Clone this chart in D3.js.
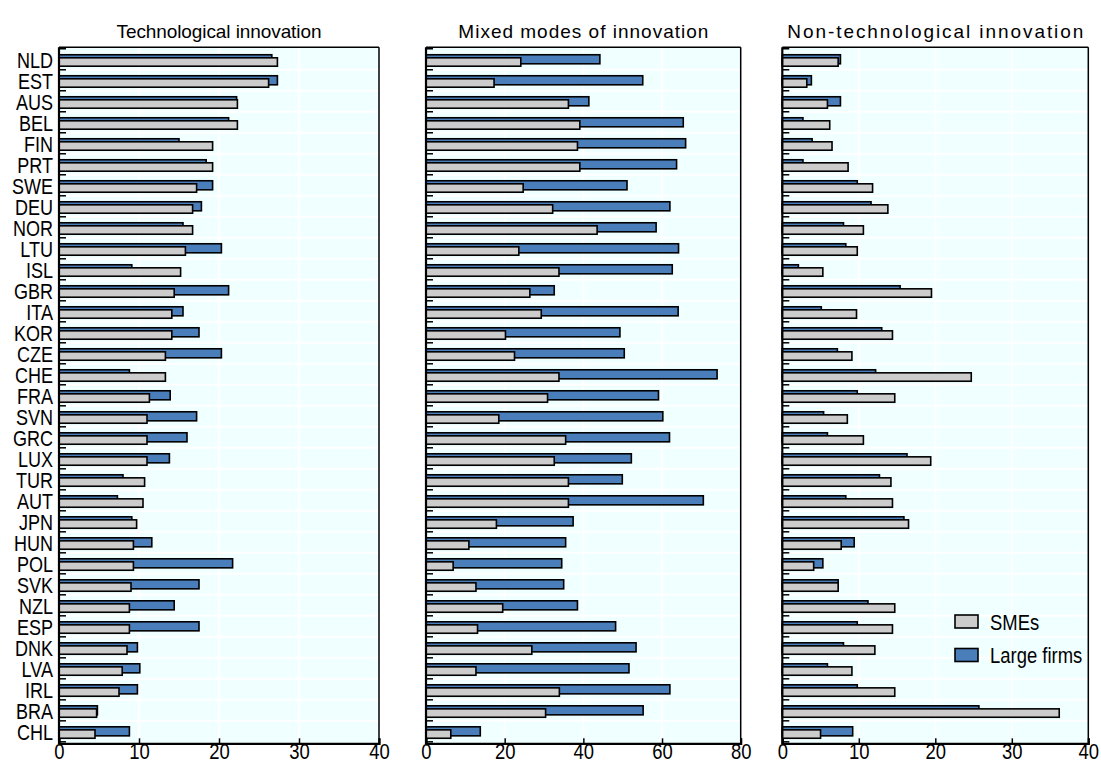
<!DOCTYPE html>
<html>
<head>
<meta charset="utf-8">
<script src="https://cdn.jsdelivr.net/npm/d3@7"></script>
<style>
  body { margin: 0; background: #fff; }
  svg text { font-family: "Liberation Sans Narrow", "Arial Narrow", "Liberation Sans", sans-serif; fill: #000; }
</style>
</head>
<body>
<svg id="chart" width="1101" height="765"></svg>
<script>
// countries, top to bottom
const countries = ["NLD","EST","AUS","BEL","FIN","PRT","SWE","DEU","NOR","LTU","ISL","GBR","ITA","KOR","CZE","CHE","FRA","SVN","GRC","LUX","TUR","AUT","JPN","HUN","POL","SVK","NZL","ESP","DNK","LVA","IRL","BRA","CHL"]

// Technological innovation (%)
const techSME   = [27.3,26.2,22.3,22.3,19.2,19.2,17.2,16.7,16.7,15.8,15.2,14.4,14.1,14.1,13.3,13.3,11.3,11.0,11.0,11.0,10.7,10.5,9.7,9.3,9.3,9.0,8.8,8.8,8.5,7.9,7.5,4.7,4.5]
const techLarge = [26.6,27.3,22.2,21.2,15.0,18.4,19.2,17.8,15.5,20.3,9.1,21.2,15.5,17.5,20.3,8.8,13.9,17.2,16.0,13.8,8.0,7.3,9.1,11.6,21.7,17.5,14.4,17.5,9.8,10.1,9.8,4.8,8.8]

// Mixed modes of innovation (%)
const mixedSME   = [24.1,17.3,36.2,39.1,38.5,39.1,24.7,32.2,43.5,23.6,33.8,26.4,29.3,20.2,22.5,33.8,30.9,18.5,35.5,32.6,36.2,36.2,17.9,10.9,6.9,12.7,19.5,13.1,26.9,12.7,33.9,30.4,6.3]
const mixedLarge = [44.2,55.1,41.4,65.4,66.0,63.7,51.1,62.0,58.5,64.2,62.6,32.6,64.1,49.3,50.4,74.0,59.1,60.2,61.9,52.2,49.9,70.5,37.4,35.5,34.5,35.0,38.5,48.2,53.4,51.6,62.0,55.2,13.8]

// Non-technological innovation (%)
const nonTechSME   = [7.3,3.2,5.9,6.2,6.5,8.6,11.8,13.8,10.6,9.8,5.3,19.5,9.7,14.4,9.1,24.7,14.7,8.5,10.6,19.4,14.2,14.4,16.5,7.7,4.1,7.3,14.7,14.4,12.1,9.1,14.7,36.2,5.0]
const nonTechLarge = [7.6,3.8,7.6,2.7,3.9,2.7,9.8,11.6,8.0,8.3,2.1,15.4,5.1,13.0,7.2,12.2,9.8,5.4,5.9,16.3,12.7,8.3,15.9,9.4,5.3,7.3,11.2,9.8,8.0,5.9,9.8,25.7,9.2]

const titles = ["Technological innovation", "Mixed modes of innovation", "Non-technological innovation"]
const seriesNames = ["SMEs", "Large firms"]
const maxVals = [40, 80, 40]
const tickSteps = [10, 20, 10]

const colSME = "#cccccc"
const colLarge = "#4a7ebb"
const bg = "#f0ffff"

// no narrow font installed, so squeeze the regular one sideways
const narrow = 0.82

let svg = d3.select("#chart")
let plotTop = 47.3, plotBottom = 743.3

function squeeze(sel, x) {
    sel.attr("transform", "scale(" + narrow + ",1)")
        .attr("x", x / narrow)
}

let yScale = d3.scaleBand()
    .domain(countries)
    .range([plotTop, plotBottom])
    .paddingInner(0)
    .paddingOuter(0.07)

let panels = [
    { left: 59, right: 379, sme: techSME, large: techLarge, titleW: 205 },
    { left: 426, right: 740.7, sme: mixedSME, large: mixedLarge, titleW: 250 },
    { left: 782.3, right: 1088.3, sme: nonTechSME, large: nonTechLarge, titleW: 296 }
]

panels.forEach(function (p, k) {
    let xScale = d3.scaleLinear()
        .domain([0, maxVals[k]])
        .range([p.left, p.right])
    let ticks = d3.range(0, maxVals[k] + 0.01, tickSteps[k])
    let g = svg.append("g")

    // background
    g.append("rect")
        .attr("x", p.left).attr("y", plotTop)
        .attr("width", p.right - p.left).attr("height", plotBottom - plotTop)
        .attr("fill", bg)

    // white gridlines
    g.selectAll(".vgrid")
        .data(ticks.slice(1, -1))
        .enter().append("line")
        .attr("x1", d => xScale(d)).attr("x2", d => xScale(d))
        .attr("y1", plotTop).attr("y2", plotBottom)
        .attr("stroke", "#fff").attr("stroke-width", 2)
    g.selectAll(".hgrid")
        .data(countries.slice(1))
        .enter().append("line")
        .attr("x1", p.left).attr("x2", p.right)
        .attr("y1", d => yScale(d)).attr("y2", d => yScale(d))
        .attr("stroke", "#fff").attr("stroke-width", 2)

    let bw = yScale.bandwidth()

    // large firms bar sits behind, slightly higher
    g.selectAll(".large")
        .data(countries)
        .enter().append("rect")
        .attr("x", xScale(0))
        .attr("y", d => yScale(d) + bw * 0.285)
        .attr("width", (d, i) => xScale(p.large[i]) - xScale(0))
        .attr("height", bw * 0.43)
        .attr("fill", colLarge)
        .attr("stroke", "#000").attr("stroke-width", 1.6)

    g.selectAll(".sme")
        .data(countries)
        .enter().append("rect")
        .attr("x", xScale(0))
        .attr("y", d => yScale(d) + bw * 0.43)
        .attr("width", (d, i) => xScale(p.sme[i]) - xScale(0))
        .attr("height", bw * 0.40)
        .attr("fill", colSME)
        .attr("stroke", "#000").attr("stroke-width", 1.6)

    // frame
    g.append("line")
        .attr("x1", p.left).attr("x2", p.right).attr("y1", plotTop).attr("y2", plotTop)
        .attr("stroke", "#000").attr("stroke-width", 1.5)
    g.append("line")
        .attr("x1", p.right).attr("x2", p.right).attr("y1", plotTop).attr("y2", plotBottom)
        .attr("stroke", "#000").attr("stroke-width", 1.5)

    // x axis (ticks inward)
    let xAxis = g.append("g")
        .attr("transform", "translate(0," + plotBottom + ")")
        .call(d3.axisBottom(xScale).tickValues(ticks).tickSize(-5).tickPadding(6).tickFormat(d3.format("d")))
    xAxis.select(".domain").attr("stroke-width", 2.2)
    xAxis.selectAll(".tick line").attr("stroke-width", 1.5)
    xAxis.selectAll("text")
        .style("font-size", "22.5px")
        .attr("dy", "0.62em")
        .attr("y", 2)
        .attr("transform", "scale(" + narrow + ",1)")

    // y axis: ticks at band boundaries
    let bounds = countries.map(d => yScale(d)).concat([yScale(countries[countries.length - 1]) + yScale.step()])
    g.selectAll(".ytick")
        .data(bounds)
        .enter().append("line")
        .attr("x1", p.left).attr("x2", p.left + 7)
        .attr("y1", d => d).attr("y2", d => d)
        .attr("stroke", "#000").attr("stroke-width", 1.5)
    g.append("line")
        .attr("x1", p.left).attr("x2", p.left).attr("y1", plotTop).attr("y2", plotBottom + 1)
        .attr("stroke", "#000").attr("stroke-width", 2.2)

    // title: narrow glyphs spread out to the reference width
    g.append("text")
        .attr("x", (p.left + p.right) / 2 - p.titleW / 2)
        .attr("y", 38)
        .attr("textLength", p.titleW)
        .attr("lengthAdjust", "spacing")
        .style("font-size", "19px")
        .text(titles[k])

    // country labels on first panel only
    if (k == 0) {
        g.selectAll(".ylab")
            .data(countries)
            .enter().append("text")
            .attr("y", d => yScale(d) + bw * 0.55)
            .attr("dy", "0.36em")
            .attr("text-anchor", "end")
            .style("font-size", "22px")
            .text(d => d)
            .call(squeeze, p.left - 6)
    }
})

// legend inside third panel
let legend = svg.append("g")
let legCols = [colSME, colLarge]
seriesNames.forEach(function (name, i) {
    legend.append("rect")
        .attr("x", 955).attr("y", 615 + i * 33.5)
        .attr("width", 23).attr("height", 13)
        .attr("fill", legCols[i])
        .attr("stroke", "#000").attr("stroke-width", 1.6)
    legend.append("text")
        .attr("y", 621.5 + i * 33.5)
        .attr("dy", "0.36em")
        .style("font-size", "22.5px")
        .text(name)
        .call(squeeze, 990)
})
</script>
</body>
</html>
